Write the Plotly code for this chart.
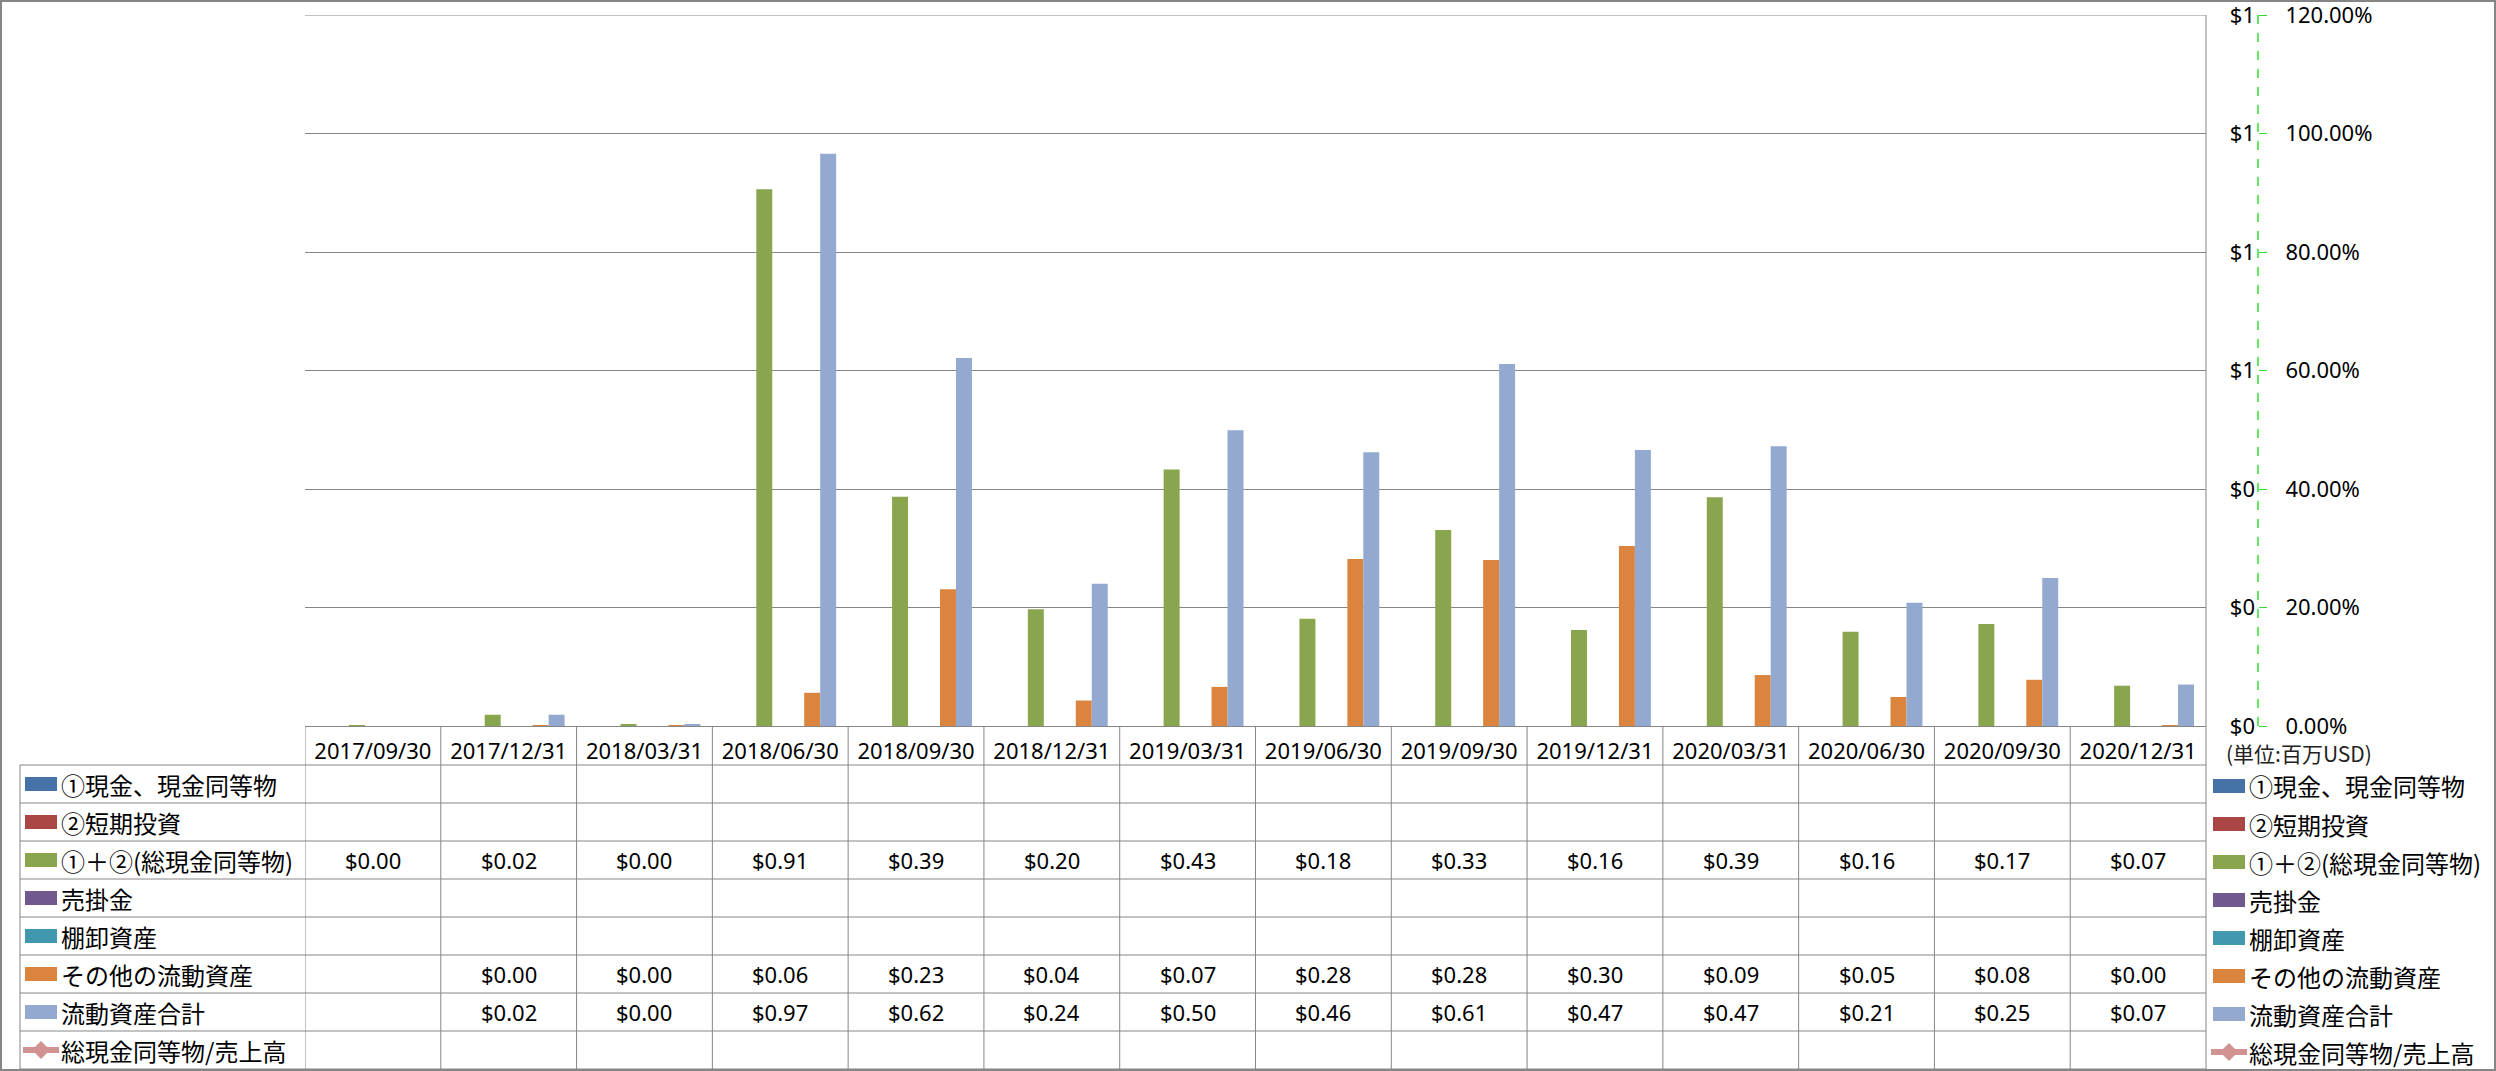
import plotly.graph_objects as go

W, H = 2496, 1071

categories = ["2017/09/30", "2017/12/31", "2018/03/31", "2018/06/30", "2018/09/30",
              "2018/12/31", "2019/03/31", "2019/06/30", "2019/09/30", "2019/12/31",
              "2020/03/31", "2020/06/30", "2020/09/30", "2020/12/31"]

bar_names = ["①現金、現金同等物", "②短期投資", "①＋②(総現金同等物)", "売掛金",
             "棚卸資産", "その他の流動資産", "流動資産合計"]
line_name = "総現金同等物/売上高"

cash = [None] * 14
short_investments = [None] * 14
total_cash = [0.0004, 0.019, 0.003, 0.906, 0.387, 0.197, 0.433, 0.181, 0.331, 0.162,
              0.386, 0.159, 0.172, 0.068]
receivables = [None] * 14
inventory = [None] * 14
other_current = [None, 0.0005, 0.0004, 0.056, 0.231, 0.043, 0.066, 0.282, 0.280, 0.304,
                 0.086, 0.049, 0.078, 0.0004]
total_current = [None, 0.019, 0.003, 0.966, 0.621, 0.240, 0.499, 0.462, 0.611, 0.466,
                 0.472, 0.208, 0.250, 0.070]
cash_to_sales = [None] * 14

value_ticks = [0, 0.2, 0.4, 0.6, 0.8, 1.0, 1.2]

bar_values = [cash, short_investments, total_cash, receivables, inventory,
              other_current, total_current]
bar_colors = ["#4572A7", "#AA4643", "#89A54E", "#71588F", "#4198AF", "#DB843D", "#93A9CF"]
line_color = "#D19392"

unit_text = "(単位:百万USD)"

# ---- layout geometry (pixels) ----
PL, PR, PT, PB = 305, 2206, 15, 726
AXX = 2258
GRID = "#868686"
FONT_LAT = "Noto Sans, Noto Sans CJK JP, sans-serif"
FONT_JP = "Noto Sans CJK JP, Noto Sans, sans-serif"
TBL_L = 20
ROW_TOP = 765
ROW_H = 38.0
YMAX = value_ticks[-1]


def px(x):
    return x / W


def py(y):
    return 1 - y / H


fig = go.Figure()
for name, vals, col in zip(bar_names, bar_values, bar_colors):
    fig.add_trace(go.Bar(x=categories, y=vals, name=name, marker_color=col,
                         marker_line_width=0, showlegend=False))
fig.add_trace(go.Scatter(x=categories, y=cash_to_sales, name=line_name, yaxis="y2",
                         mode="lines+markers", line=dict(color=line_color, width=5),
                         marker=dict(symbol="diamond", size=14, color=line_color),
                         showlegend=False))

shapes = []
annotations = []

# outer border
shapes.append(dict(type="rect", xref="paper", yref="paper", x0=px(1), x1=px(W - 1),
                   y0=py(H - 1), y1=py(1), line=dict(color=GRID, width=2)))
# top gridline (value axis maximum)
shapes.append(dict(type="line", xref="paper", yref="y", x0=px(PL), x1=px(PR),
                   y0=YMAX, y1=YMAX, line=dict(color=GRID, width=1)))
# secondary axis dashed line
shapes.append(dict(type="line", xref="paper", yref="paper", x0=px(AXX), x1=px(AXX),
                   y0=py(PB), y1=py(PT), line=dict(color="#33DD33", width=1.5, dash="dash")))
# plot right border down through table
shapes.append(dict(type="line", xref="paper", yref="paper", x0=px(PR), x1=px(PR),
                   y0=py(ROW_TOP + 8 * ROW_H), y1=py(PT), line=dict(color=GRID, width=1)))

n_rows = len(bar_names) + 1
# column separators in table
for k in range(len(categories)):
    shapes.append(dict(type="line", xref="x", yref="paper", x0=k - 0.5, x1=k - 0.5,
                       y0=py(ROW_TOP + n_rows * ROW_H), y1=py(PB),
                       line=dict(color=GRID, width=1)))
# table left border
shapes.append(dict(type="line", xref="paper", yref="paper", x0=px(TBL_L), x1=px(TBL_L),
                   y0=py(ROW_TOP + n_rows * ROW_H), y1=py(ROW_TOP),
                   line=dict(color=GRID, width=1)))
# row lines
for r in range(n_rows + 1):
    yy = ROW_TOP + r * ROW_H
    shapes.append(dict(type="line", xref="paper", yref="paper", x0=px(TBL_L), x1=px(PR),
                       y0=py(yy), y1=py(yy), line=dict(color=GRID, width=1)))

all_names = bar_names + [line_name]
all_values = bar_values + [cash_to_sales]
all_colors = bar_colors + [line_color]


def legend_key(x0, yc, color, is_line):
    if not is_line:
        shapes.append(dict(type="rect", xref="paper", yref="paper", x0=px(x0), x1=px(x0 + 32),
                           y0=py(yc + 7), y1=py(yc - 7), fillcolor=color,
                           line=dict(width=0)))
    else:
        shapes.append(dict(type="line", xref="paper", yref="paper", x0=px(x0 - 2),
                           x1=px(x0 + 34), y0=py(yc), y1=py(yc),
                           line=dict(color=color, width=6)))
        cx = x0 + 16
        d = 9
        path = "M {} {} L {} {} L {} {} L {} {} Z".format(
            px(cx - d), py(yc), px(cx), py(yc - d), px(cx + d), py(yc), px(cx), py(yc + d))
        shapes.append(dict(type="path", xref="paper", yref="paper", path=path,
                           fillcolor=color, line=dict(width=0)))


for r, (name, vals, col) in enumerate(zip(all_names, all_values, all_colors)):
    yc = ROW_TOP + r * ROW_H + ROW_H / 2
    is_line = (r == len(all_names) - 1)
    # table legend
    legend_key(25, yc, col, is_line)
    annotations.append(dict(xref="paper", yref="paper", x=px(59), y=py(yc), text=name,
                            showarrow=False, xanchor="left", yanchor="middle",
                            font=dict(family=FONT_JP, size=24, color="#000000")))
    # right legend
    legend_key(2213, yc + 2, col, is_line)
    annotations.append(dict(xref="paper", yref="paper", x=px(2247), y=py(yc + 2), text=name,
                            showarrow=False, xanchor="left", yanchor="middle",
                            font=dict(family=FONT_JP, size=24, color="#000000")))
    # values
    for c, v in zip(categories, vals):
        if v is None:
            continue
        annotations.append(dict(xref="x", yref="paper", x=c, y=py(yc),
                                text="${:.2f}".format(v), showarrow=False,
                                xanchor="center", yanchor="middle",
                                font=dict(family=FONT_LAT, size=22, color="#000000")))

annotations.append(dict(xref="paper", yref="paper", x=px(2224), y=py(753), text=unit_text,
                        showarrow=False, xanchor="left", yanchor="middle",
                        font=dict(family=FONT_JP, size=21, color="#222222")))

fig.update_layout(
    width=W, height=H, autosize=False,
    margin=dict(l=0, r=0, t=0, b=0, autoexpand=False),
    paper_bgcolor="white", plot_bgcolor="white",
    barmode="group", bargap=1.5 / 8.5, bargroupgap=0,
    showlegend=False,
    font=dict(family=FONT_LAT, size=22, color="#000000"),
    xaxis=dict(domain=[px(PL), px(PR)], type="category", categoryorder="array",
               categoryarray=categories, range=[-0.5, len(categories) - 0.5],
               showgrid=False, showline=True, linecolor=GRID, automargin=False,
               linewidth=1, ticks="", tickfont=dict(family=FONT_LAT, size=22, color="#000000"),
               ticklabelstandoff=6, zeroline=False, fixedrange=True),
    yaxis=dict(domain=[py(PB), py(PT)], range=[0, YMAX], tickmode="array",
               tickvals=value_ticks, tickformat="$.0f", side="right", anchor="free",
               position=px(AXX), ticklabelposition="inside", ticklabeloverflow="allow",
               showline=False, ticks="", automargin=False,
               showgrid=True, gridcolor=GRID, gridwidth=1, zeroline=False,
               tickfont=dict(family=FONT_LAT, size=22, color="#000000"), fixedrange=True),
    yaxis2=dict(overlaying="y", range=[0, YMAX], tickmode="array", tickvals=value_ticks,
                tickformat=".2%", ticklabeloverflow="allow", automargin=False,
                side="right", anchor="free", position=px(AXX), showline=False,
                ticks="outside", ticklen=8, tickcolor="#33DD33", tickwidth=1,
                ticklabelstandoff=14, showgrid=False, zeroline=False,
                tickfont=dict(family=FONT_LAT, size=22, color="#000000"), fixedrange=True),
    shapes=shapes,
    annotations=annotations,
)

fig.write_html("out.html", config={"displayModeBar": False})
